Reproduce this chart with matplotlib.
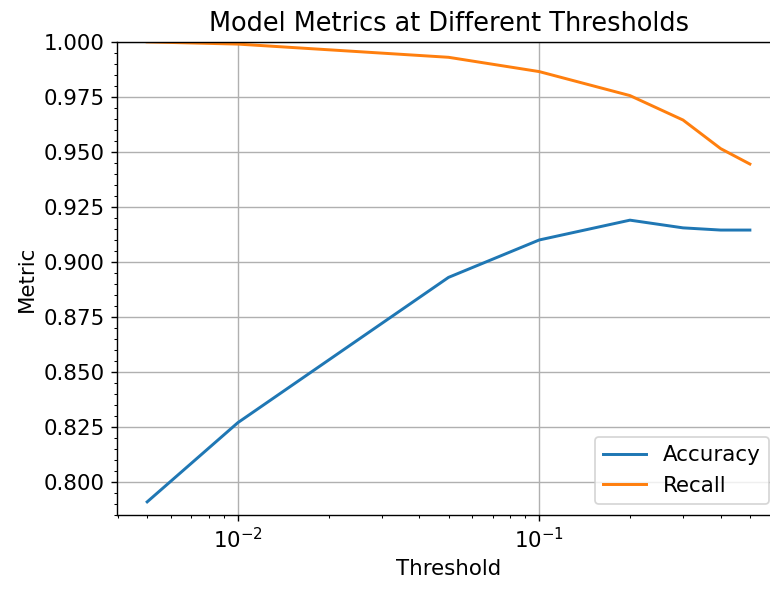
import matplotlib.pyplot as plt

# Umbrales y métricas
thresholds = [0.005, 0.01, 0.05, 0.1, 0.2, 0.3, 0.4, 0.5]
accuracy = [0.791, 0.827, 0.893, 0.910, 0.919, 0.9155, 0.9145, 0.9145]
recall = [1.000, 0.999, 0.993, 0.9865, 0.9756, 0.9645, 0.9515, 0.9445]

plt.rcParams['font.size'] = 12.3

fig = plt.figure(figsize=(6.16, 4.72), dpi=125)
# el original está recortado a la derecha
ax = fig.add_axes([0.152, 0.127, 0.861, 0.802])

ax.plot(thresholds, accuracy, label='Accuracy', linewidth=1.7)
ax.plot(thresholds, recall, label='Recall', linewidth=1.7)
ax.set_xscale('log')
ax.set_ylim(0.785, 1.0)
ax.minorticks_on()
ax.grid(True, which='major')
ax.set_title('Model Metrics at Different Thresholds')
ax.set_xlabel('Threshold')
ax.set_ylabel('Metric')
ax.legend(loc='lower right')

fig.savefig('out.png', dpi=125)
